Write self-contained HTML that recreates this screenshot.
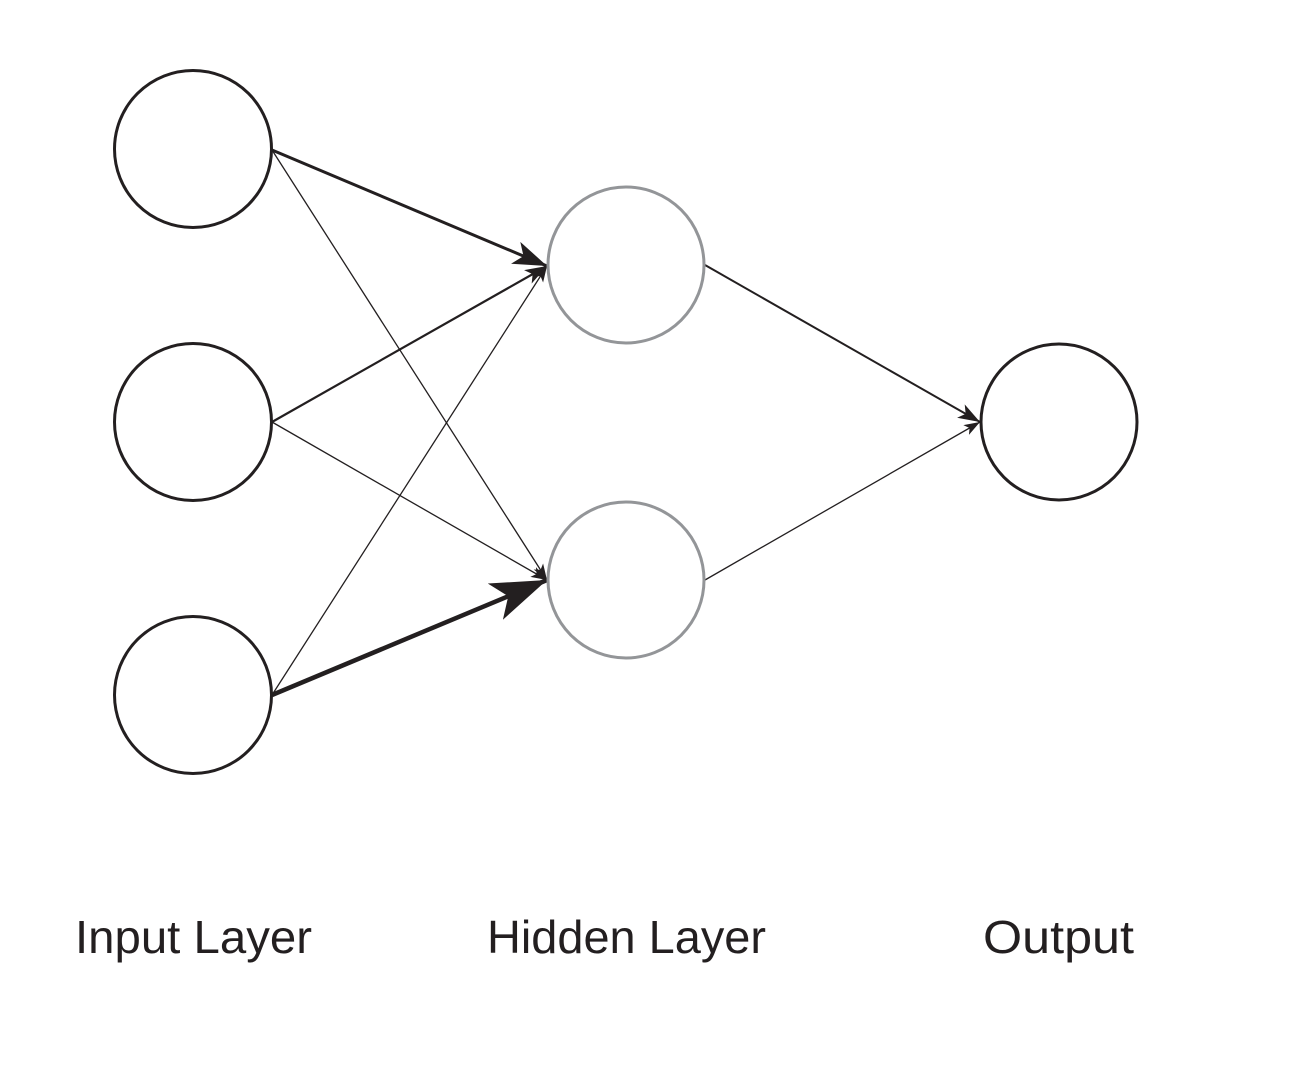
<!DOCTYPE html>
<html><head><style>html,body{margin:0;padding:0;background:#fff}</style></head>
<body>
<svg width="1289" height="1076" viewBox="0 0 1289 1076" xmlns="http://www.w3.org/2000/svg">
<defs>
<marker id="a1" viewBox="0 0 20 14" refX="20" refY="7" markerWidth="34" markerHeight="25" markerUnits="userSpaceOnUse" orient="auto"><path d="M0,0 L20,7 L0,14 L5,7 Z" fill="#231f20"/></marker>
<marker id="a2" viewBox="0 0 20 14" refX="20" refY="7" markerWidth="22" markerHeight="16" markerUnits="userSpaceOnUse" orient="auto"><path d="M0,0 L20,7 L0,14 L5,7 Z" fill="#231f20"/></marker>
<marker id="a3" viewBox="0 0 20 14" refX="20" refY="7" markerWidth="56" markerHeight="40" markerUnits="userSpaceOnUse" orient="auto"><path d="M0,0 L20,7 L0,14 L5,7 Z" fill="#231f20"/></marker>
<marker id="a4" viewBox="0 0 20 14" refX="20" refY="7" markerWidth="16" markerHeight="12" markerUnits="userSpaceOnUse" orient="auto"><path d="M0,0 L20,7 L0,14 L5,7 Z" fill="#231f20"/></marker>
</defs>
<g stroke="#231f20" fill="none">
<line x1="272" y1="150" x2="547" y2="266" stroke-width="3" marker-end="url(#a1)"/>
<line x1="272" y1="150" x2="547" y2="580" stroke-width="1.3" marker-end="url(#a4)"/>
<line x1="272" y1="422" x2="547" y2="266" stroke-width="2.2" marker-end="url(#a2)"/>
<line x1="272" y1="422" x2="547" y2="580" stroke-width="1.3" marker-end="url(#a4)"/>
<line x1="272" y1="695" x2="547" y2="266" stroke-width="1.3" marker-end="url(#a4)"/>
<line x1="272" y1="695" x2="547" y2="580" stroke-width="4.5" marker-end="url(#a3)"/>
<line x1="705" y1="265" x2="980" y2="422" stroke-width="2" marker-end="url(#a2)"/>
<line x1="705" y1="580" x2="980" y2="422" stroke-width="1.3" marker-end="url(#a4)"/>
</g>
<g fill="#fff" stroke-width="3">
<circle cx="193" cy="149" r="78.5" stroke="#231f20"/>
<circle cx="193" cy="422" r="78.5" stroke="#231f20"/>
<circle cx="193" cy="695" r="78.5" stroke="#231f20"/>
<circle cx="626" cy="265" r="78" stroke="#939598"/>
<circle cx="626" cy="580" r="78" stroke="#939598"/>
<circle cx="1059" cy="422" r="78" stroke="#231f20"/>
</g>
<g font-family="Liberation Sans, sans-serif" font-size="46" fill="#231f20">
<text x="75" y="953" textLength="237" lengthAdjust="spacingAndGlyphs">Input Layer</text>
<text x="487" y="953" textLength="279" lengthAdjust="spacingAndGlyphs">Hidden Layer</text>
<text x="983" y="953" textLength="151" lengthAdjust="spacingAndGlyphs">Output</text>
</g>
</svg>
</body></html>
